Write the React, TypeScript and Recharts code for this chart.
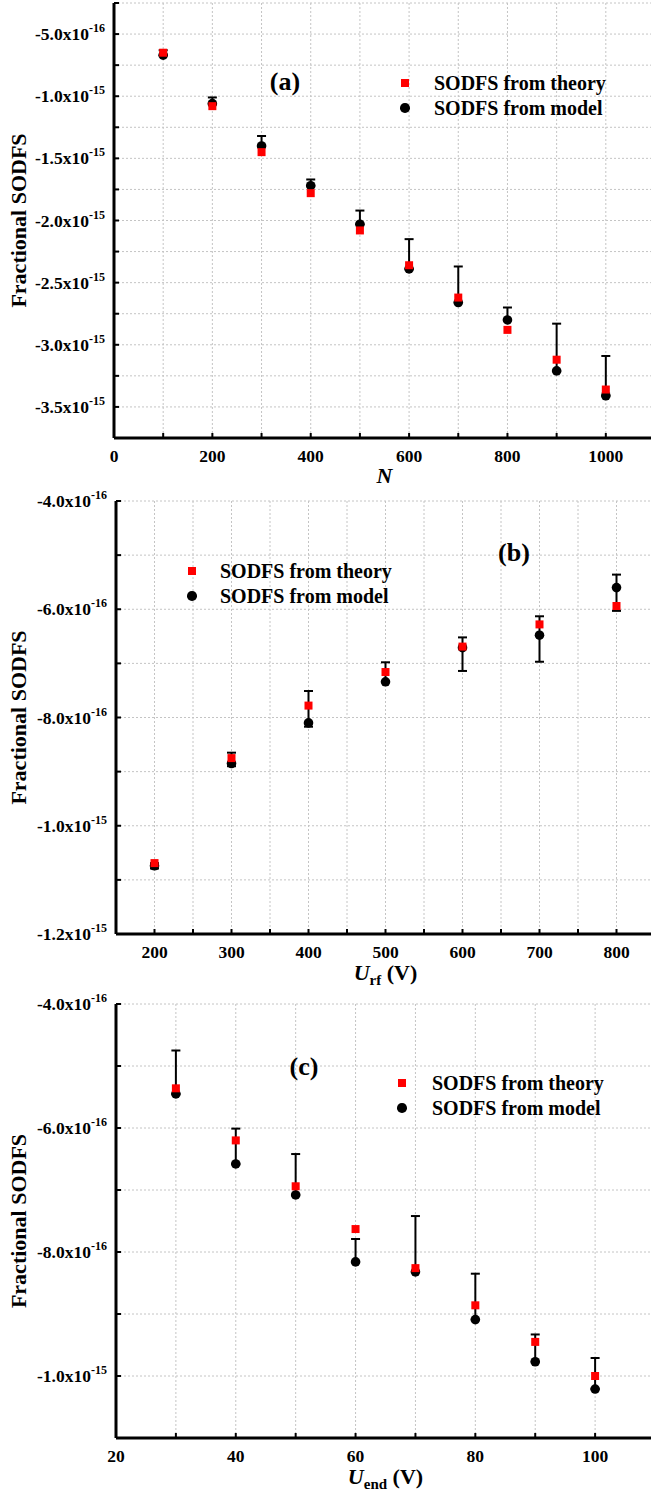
import React from 'react';
import { ScatterChart, Scatter, XAxis, YAxis, CartesianGrid, ErrorBar, Legend } from 'recharts';

const FONT = "'Liberation Serif', 'Times New Roman', Times, serif";

// ---------- Panel (a): SODFS vs N  (y values in units of 1e-16) ----------
const nValues = [100, 200, 300, 400, 500, 600, 700, 800, 900, 1000];
const theoryA = [-6.5, -10.8, -14.5, -17.8, -20.8, -23.6, -26.2, -28.8, -31.2, -33.6];
const modelA = [-6.7, -10.6, -14.0, -17.2, -20.3, -23.9, -26.6, -28.0, -32.1, -34.1];
const errUpA = [0.4, 0.5, 0.8, 0.5, 1.1, 2.4, 2.9, 1.0, 3.8, 3.2];
const errLowA = [0, 0, 0, 0, 0, 0, 0, 0, 0, 0];
const xTicksA = [0, 100, 200, 300, 400, 500, 600, 700, 800, 900, 1000, 1100];
const xLabelsA = [0, 200, 400, 600, 800, 1000];
const yTicksA = [-37.5, -35, -32.5, -30, -27.5, -25, -22.5, -20, -17.5, -15, -12.5, -10, -7.5, -5, -2.5];
const yLabelsA = [-35, -30, -25, -20, -15, -10, -5];

// ---------- Panel (b): SODFS vs U_rf ----------
const urfValues = [200, 300, 400, 500, 600, 700, 800];
const theoryB = [-10.69, -8.75, -7.78, -7.16, -6.69, -6.28, -5.94];
const modelB = [-10.74, -8.85, -8.1, -7.34, -6.71, -6.48, -5.6];
const errUpB = [0.05, 0.2, 0.59, 0.36, 0.19, 0.35, 0.24];
const errLowB = [0.05, 0.05, 0.07, 0, 0.43, 0.49, 0.43];
const xTicksB = [150, 200, 250, 300, 350, 400, 450, 500, 550, 600, 650, 700, 750, 800, 850];
const xLabelsB = [200, 300, 400, 500, 600, 700, 800];
const yTicksB = [-12, -11, -10, -9, -8, -7, -6, -5, -4];
const yLabelsB = [-12, -10, -8, -6, -4];

// ---------- Panel (c): SODFS vs U_end ----------
const uendValues = [30, 40, 50, 60, 70, 80, 90, 100];
const theoryC = [-5.36, -6.2, -6.94, -7.63, -8.26, -8.86, -9.45, -10.0];
const modelC = [-5.45, -6.58, -7.08, -8.16, -8.32, -9.09, -9.77, -10.21];
const errUpC = [0.7, 0.57, 0.66, 0.37, 0.9, 0.74, 0.44, 0.5];
const errLowC = [0, 0, 0, 0, 0, 0, 0, 0];
const xTicksC = [20, 30, 40, 50, 60, 70, 80, 90, 100, 110];
const xLabelsC = [20, 40, 60, 80, 100];
const yTicksC = [-11, -10, -9, -8, -7, -6, -5, -4];
const yLabelsC = [-10, -8, -6, -4];

const THEORY_NAME = 'SODFS from theory';
const MODEL_NAME = 'SODFS from model';

type Panel = {
  key: string;
  plotTop: number;
  plotH: number;
  left: number;
  xDomain: [number, number];
  xTicks: number[];
  xLabels: number[];
  yDomain: [number, number];
  yTicks: number[];
  yLabels: number[];
  xs: number[];
  theory: number[];
  model: number[];
  errLow: number[];
  errUp: number[];
  sub: string | null;
  titleOffset: number;
  markerX: number;
  rowY: number;
  textX: number;
  tag: string;
  tagX: number;
  tagY: number;
};

const panels: Panel[] = [
  {
    key: 'a', plotTop: 3, plotH: 435, left: 114,
    xDomain: [0, 1100], xTicks: xTicksA, xLabels: xLabelsA,
    yDomain: [-37.5, -2.5], yTicks: yTicksA, yLabels: yLabelsA,
    xs: nValues, theory: theoryA, model: modelA, errLow: errLowA, errUp: errUpA,
    sub: null, titleOffset: 45, markerX: 405, rowY: 83, textX: 434, tag: '(a)', tagX: 285, tagY: 82,
  },
  {
    key: 'b', plotTop: 501, plotH: 433, left: 116,
    xDomain: [150, 850], xTicks: xTicksB, xLabels: xLabelsB,
    yDomain: [-12, -4], yTicks: yTicksB, yLabels: yLabelsB,
    xs: urfValues, theory: theoryB, model: modelB, errLow: errLowB, errUp: errUpB,
    sub: 'rf', titleOffset: 46, markerX: 192, rowY: 571, textX: 220, tag: '(b)', tagX: 514, tagY: 553,
  },
  {
    key: 'c', plotTop: 1004, plotH: 434, left: 116,
    xDomain: [20, 110], xTicks: xTicksC, xLabels: xLabelsC,
    yDomain: [-11, -4], yTicks: yTicksC, yLabels: yLabelsC,
    xs: uendValues, theory: theoryC, model: modelC, errLow: errLowC, errUp: errUpC,
    sub: 'end', titleOffset: 46, markerX: 402, rowY: 1083, textX: 432, tag: '(c)', tagX: 304, tagY: 1067,
  },
];

const TOP_M = 20;
const BOTTOM_AXIS_H = 70;
const CHART_W = 660;
const CIRCLE_R = 4.8;

const makeXTick = (labels: number[]) => (props: any) => {
  const { x, y, payload } = props;
  if (!labels.includes(payload.value)) return <g />;
  return (
    <text x={x} y={y + 24} textAnchor="middle" fontFamily={FONT} fontWeight="bold" fontSize={17.5} fill="#000">
      {payload.value}
    </text>
  );
};

const fmtY = (v: number) =>
  Math.abs(v) >= 10 ? { m: (v / 10).toFixed(1), e: '-15' } : { m: v.toFixed(1), e: '-16' };

const makeYTick = (labels: number[]) => (props: any) => {
  const { x, y, payload } = props;
  if (!labels.includes(payload.value)) return <g />;
  const { m, e } = fmtY(payload.value);
  return (
    <text x={x - 9} y={y + 6} textAnchor="end" fontFamily={FONT} fontWeight="bold" fontSize={17.5} fill="#000">
      {m}x10
      <tspan dy={-8} fontSize={12}>{e}</tspan>
    </text>
  );
};

const square = (props: any) => (
  <rect x={props.cx - 4} y={props.cy - 4} width={8} height={8} fill="#ff0000" />
);
const circle = (props: any) => <circle cx={props.cx} cy={props.cy} r={CIRCLE_R} fill="#000" />;
const noShape = () => <g />;

function PanelChart({ p }: { p: Panel }) {
  const chartH = TOP_M + p.plotH + BOTTOM_AXIS_H;
  const containerTop = p.plotTop - TOP_M;
  const theoryData = p.xs.map((x, i) => ({ x, y: p.theory[i] }));
  const modelData = p.xs.map((x, i) => ({ x, y: p.model[i] }));
  const errData = p.xs.map((x, i) => ({ x, y: p.model[i], err: [p.errLow[i], p.errUp[i]] }));

  const xTitle = (props: any) => {
    const vb = props.viewBox || {};
    const cx = vb.x + vb.width / 2;
    const by = vb.y + p.titleOffset;
    return (
      <text x={cx} y={by} textAnchor="middle" fontFamily={FONT} fontWeight="bold" fontSize={22} fill="#000">
        <tspan fontStyle="italic">{p.sub ? 'U' : 'N'}</tspan>
        {p.sub ? <tspan fontSize={15} dy={5}>{p.sub}</tspan> : null}
        {p.sub ? <tspan dy={-5}> (V)</tspan> : null}
      </text>
    );
  };

  const yTitle = (props: any) => {
    const vb = props.viewBox || {};
    const cy = vb.y + vb.height / 2;
    const bx = 26;
    return (
      <text
        x={bx}
        y={cy}
        transform={`rotate(-90 ${bx} ${cy})`}
        textAnchor="middle"
        fontFamily={FONT}
        fontWeight="bold"
        fontSize={22}
        fill="#000"
      >
        Fractional SODFS
      </text>
    );
  };

  const legendContent = (props: any) => {
    const payload = (props.payload || []).filter((e: any) => e.type !== 'none');
    const sorted = [...payload].sort(
      (a: any, b: any) => (a.type === 'square' ? -1 : 1) - (b.type === 'square' ? -1 : 1)
    );
    return (
      <div style={{ position: 'relative', width: 260, height: 50 }}>
        {sorted.map((e: any, i: number) => (
          <div key={e.value} style={{ position: 'absolute', left: 0, top: i * 25, height: 25, width: 260 }}>
            {e.type === 'square' ? (
              <div style={{ position: 'absolute', left: 6, top: 8.5, width: 8, height: 8, background: '#ff0000' }} />
            ) : (
              <div
                style={{
                  position: 'absolute',
                  left: 10 - CIRCLE_R,
                  top: 12.5 - CIRCLE_R,
                  width: CIRCLE_R * 2,
                  height: CIRCLE_R * 2,
                  borderRadius: '50%',
                  background: '#000',
                }}
              />
            )}
            <div
              style={{
                position: 'absolute',
                left: p.textX - (p.markerX - 10),
                top: 0,
                lineHeight: '25px',
                fontFamily: FONT,
                fontWeight: 'bold',
                fontSize: 20,
                color: '#000',
                whiteSpace: 'nowrap',
              }}
            >
              {e.value}
            </div>
          </div>
        ))}
      </div>
    );
  };

  return (
    <div style={{ position: 'absolute', left: 0, top: containerTop, width: CHART_W, height: chartH }}>
      <ScatterChart width={CHART_W} height={chartH} margin={{ top: TOP_M, right: 0, bottom: 0, left: 0 }}>
        <CartesianGrid stroke="#c4c4c4" strokeDasharray="2 2" strokeWidth={1} />
        <XAxis
          type="number"
          dataKey="x"
          domain={p.xDomain}
          ticks={p.xTicks}
          interval={0}
          allowDataOverflow
          height={BOTTOM_AXIS_H}
          axisLine={{ stroke: '#000', strokeWidth: 3 }}
          tickLine={{ stroke: '#000', strokeWidth: 2 }}
          tickSize={-5}
          tickMargin={5}
          tick={makeXTick(p.xLabels)}
          label={xTitle}
        />
        <XAxis
          xAxisId="top"
          orientation="top"
          type="number"
          domain={p.xDomain}
          ticks={p.xTicks}
          interval={0}
          allowDataOverflow
          height={0}
          axisLine={{ stroke: '#000', strokeWidth: 3 }}
          tickLine={{ stroke: '#000', strokeWidth: 2 }}
          tickSize={-5}
          tick={false}
        />
        <YAxis
          type="number"
          dataKey="y"
          domain={p.yDomain}
          ticks={p.yTicks}
          interval={0}
          allowDataOverflow
          width={p.left}
          axisLine={{ stroke: '#000', strokeWidth: 3 }}
          tickLine={{ stroke: '#000', strokeWidth: 2 }}
          tickSize={-5}
          tickMargin={5}
          tick={makeYTick(p.yLabels)}
          label={yTitle}
        />
        <YAxis
          yAxisId="right"
          orientation="right"
          type="number"
          domain={p.yDomain}
          ticks={p.yTicks}
          interval={0}
          allowDataOverflow
          width={5}
          axisLine={{ stroke: '#000', strokeWidth: 3 }}
          tickLine={{ stroke: '#000', strokeWidth: 2 }}
          tickSize={-5}
          tick={false}
        />
        <Scatter name={MODEL_NAME} data={modelData} shape={circle} legendType="circle" fill="#000" isAnimationActive={false} />
        <Scatter name={THEORY_NAME} data={theoryData} shape={square} legendType="square" fill="#ff0000" isAnimationActive={false} />
        <Scatter name="err" data={errData} shape={noShape} legendType="none" isAnimationActive={false}>
          <ErrorBar dataKey="err" direction="y" width={4.5} stroke="#000" strokeWidth={2} />
        </Scatter>
        <Legend
          layout="vertical"
          align="center"
          verticalAlign="middle"
          content={legendContent}
          wrapperStyle={{ left: p.markerX - 10, top: p.rowY - 12.5 - containerTop, width: 260, height: 50 }}
        />
      </ScatterChart>
      <div
        style={{
          position: 'absolute',
          left: p.tagX - 40,
          top: p.tagY - containerTop - 16,
          width: 80,
          height: 32,
          lineHeight: '32px',
          textAlign: 'center',
          fontFamily: FONT,
          fontWeight: 'bold',
          fontSize: 26,
          color: '#000',
        }}
      >
        {p.tag}
      </div>
    </div>
  );
}

export default function App() {
  return (
    <div
      style={{
        position: 'absolute',
        left: 0,
        top: 0,
        width: 651,
        height: 1492,
        overflow: 'hidden',
        background: '#fff',
      }}
    >
      {panels.map((p) => (
        <PanelChart key={p.key} p={p} />
      ))}
    </div>
  );
}
